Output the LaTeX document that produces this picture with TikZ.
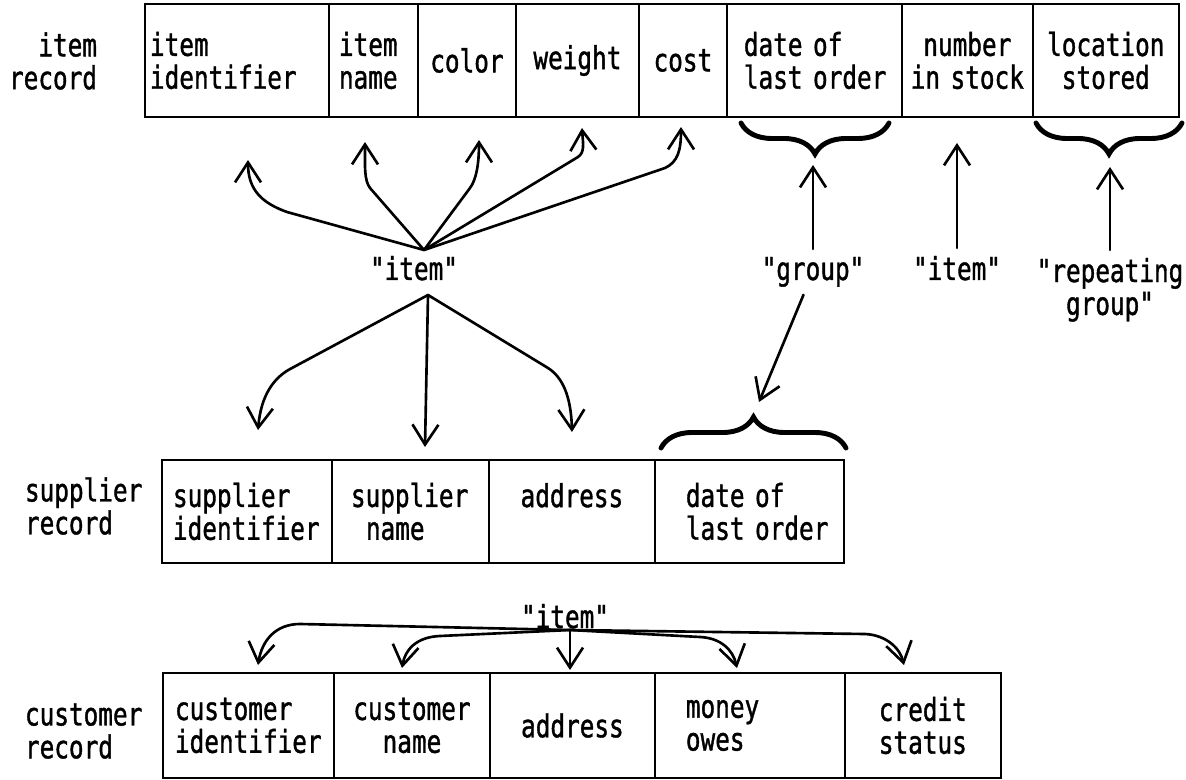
\documentclass[tikz,border=0pt]{standalone}
\usepackage{fontspec}
\usetikzlibrary{arrows.meta,decorations.pathreplacing}

\newfontfamily\recfont[FakeStretch=0.77,FakeBold=1.2]{DejaVu Sans Mono}
\newcommand{\fieldfont}{\recfont\fontsize{18pt}{18.7pt}\selectfont}

\tikzset{
  field/.style={draw, line width=1.3pt, anchor=north west, inner ysep=0pt, outer sep=0pt, font=\fieldfont},
  tag/.style={font=\fieldfont, inner sep=0pt, outer sep=0.16cm, align=center},
  arr/.style={-{Straight Barb[length=0.4cm, width=0.52cm]}, line width=1.5pt, line cap=round, line join=round},
  brc/.style={decorate, decoration={brace, amplitude=0.62cm}, line width=2.8pt, line cap=round}
}

\begin{document}
\begin{tikzpicture}[x=0.02cm, y=-0.02cm]
\useasboundingbox (0,0) rectangle (1186,780);

% item record
\node[tag, align=right, anchor=east, outer sep=0pt] (itemrec) at (97,61) {item\\record};
\begin{scope}[every node/.style={field, minimum height=2.26cm}]
\node[text width=3.48cm, inner xsep=0.1cm, align=left] (iid) at (145,4) {item\\identifier};
\node[text width=1.38cm, inner xsep=0.2cm, align=left] (iname) at (iid.north east) {item\\name};
\node[text width=1.76cm, inner xsep=0.1cm, align=center] (icolor) at (iname.north east) {color};
\node[text width=2.26cm, inner xsep=0.1cm, align=center] (iweight) at (icolor.north east) {weight};
\node[text width=1.56cm, inner xsep=0.1cm, align=center] (icost) at (iweight.north east) {cost};
\node[text width=2.82cm, inner xsep=0.34cm, align=left] (idate) at (icost.north east) {\mbox{date of}\\\mbox{last order}};
\node[text width=2.42cm, inner xsep=0.1cm, align=center] (istock) at (idate.north east) {number\\\mbox{in stock}};
\node[text width=2.72cm, inner xsep=0.1cm, align=center] (iloc) at (istock.north east) {location\\stored};
\end{scope}

% supplier record
\node[tag, align=left, anchor=west, outer sep=0pt] (suprec) at (25,506) {supplier\\record};
\begin{scope}[every node/.style={field, minimum height=2.06cm}]
\node[text width=2.96cm, inner xsep=0.22cm, align=left] (sid) at (162,460) {supplier\\identifier};
\node[text width=2.38cm, inner xsep=0.38cm, align=left] (sname) at (sid.north east) {supplier\\\hspace*{0.3cm}name};
\node[text width=3.12cm, inner xsep=0.1cm, align=center] (saddr) at (sname.north east) {address\\\mbox{}};
\node[text width=2.54cm, inner xsep=0.62cm, align=left] (sdate) at (saddr.north east) {\mbox{date of}\\\mbox{last order}};
\end{scope}

% customer record
\node[tag, align=left, anchor=west, outer sep=0pt] (cusrec) at (25,731) {customer\\record};
\begin{scope}[every node/.style={field, minimum height=2.1cm}]
\node[text width=2.94cm, inner xsep=0.24cm, align=left] (cid) at (163,673) {customer\\identifier};
\node[text width=2.92cm, inner xsep=0.1cm, align=center] (cname) at (cid.north east) {customer\\name};
\node[text width=3.1cm, inner xsep=0.1cm, align=center] (caddr) at (cname.north east) {address};
\node[text width=2.56cm, inner xsep=0.62cm, align=left] (cmoney) at (caddr.north east) {money\\owes};
\node[text width=2.92cm, inner xsep=0.1cm, align=center] (ccredit) at (cmoney.north east) {credit\\status};
\end{scope}

% the quoted names
\node[tag, anchor=base] (tagitem) at (414,280) {"item"};
\node[tag, anchor=base] (taggroup) at (813,280) {"group"};
\node[tag, anchor=base] (tagstock) at (957,280) {"item"};
\node[tag, anchor=north] (tagrep) at (1110,250) {"repeating\\group"};
\node[tag, anchor=base] (tagcust) at (565,628) {"item"};

\coordinate (fanup) at (424,250);
\coordinate (fandown) at (428,295);
\coordinate (fancust) at (570,630);
\coordinate (upid) at (248,160);
\coordinate (upname) at (365,142);
\coordinate (upcolor) at (479,140);
\coordinate (upweight) at (582,128);
\coordinate (upcost) at (681,127);
\coordinate (dnsid) at (258,430);
\coordinate (dnsname) at (425,447);
\coordinate (dnsaddr) at (572,432);
\coordinate (grpup) at (813,165);
\coordinate (grpdown) at (759,402);
\coordinate (stockup) at (957,143);
\coordinate (repup) at (1110,167);
\coordinate (dncid) at (258,665);
\coordinate (dncname) at (402,668);
\coordinate (dncaddr) at (570,670);
\coordinate (dncmoney) at (737,668);
\coordinate (dnccredit) at (904,665);

% braces
\draw[brc] (889,123) -- (741,123);
\draw[brc] (1182,123) -- (1036,123);
\draw[brc] (661,448) -- (846,448);

% item fan, up and down
\draw[arr] (fanup) -- (287,212) .. controls (262,203) and (248,190) .. (upid);
\draw[arr] (fanup) -- (370,188) .. controls (364,180) and (365,166) .. (upname);
\draw[arr] (fanup) -- (470,188) .. controls (476,180) and (479,165) .. (upcolor);
\draw[arr] (fanup) -- (578,157) .. controls (585,152) and (583,144) .. (upweight);
\draw[arr] (fanup) -- (665,168) .. controls (678,162) and (681,150) .. (upcost);
\draw[arr] (fandown) -- (292,368) .. controls (274,377) and (261,395) .. (dnsid);
\draw[arr] (fandown) -- (dnsname);
\draw[arr] (fandown) -- (548,368) .. controls (562,377) and (571,395) .. (dnsaddr);

\draw[arr] (taggroup) -- (grpup);
\draw[arr] (taggroup) -- (grpdown);
\draw[arr] (tagstock) -- (stockup);
\draw[arr] (tagrep) -- (repup);

% customer fan
\draw[arr] (fancust) -- (300,624) .. controls (276,624) and (262,640) .. (dncid);
\draw[arr] (fancust) -- (440,636) .. controls (416,637) and (405,650) .. (dncname);
\draw[arr] (fancust) -- (dncaddr);
\draw[arr] (fancust) -- (700,637) .. controls (721,638) and (733,650) .. (dncmoney);
\draw[arr] (fancust) -- (865,634) .. controls (886,635) and (900,648) .. (dnccredit);
\end{tikzpicture}
\end{document}
